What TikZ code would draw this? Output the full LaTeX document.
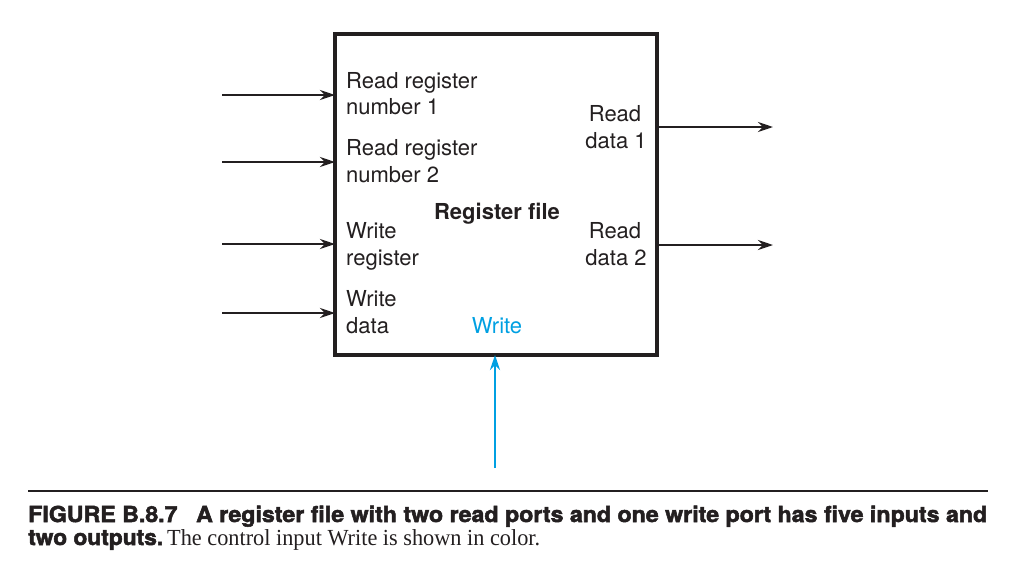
\documentclass[tikz,border=0pt]{standalone}
\usepackage{fontspec}
\setmainfont{TeX Gyre Heros}
\newfontfamily\capserif{Liberation Serif}
\newfontfamily\capheavy[FakeBold=2.2]{TeX Gyre Heros Bold}
\usetikzlibrary{arrows.meta}
\definecolor{wcyan}{RGB}{0,160,226}
\definecolor{ink}{RGB}{35,31,32}
\tikzset{
  lbl/.style={anchor=base west, inner sep=0pt, font=\fontsize{22}{27}\selectfont, text=ink},
  rlbl/.style={anchor=base, inner sep=0pt, font=\fontsize{22}{27}\selectfont, text=ink},
  tip/.style={-{Stealth[length=15pt,width=10pt]}},
  wire/.style={line width=2.6pt, draw=ink, tip},
  capbold/.style={anchor=base west, inner sep=0pt, font=\fontsize{22}{26}\capheavy, text=ink},
}
\begin{document}
\begin{tikzpicture}[x=1pt,y=-1pt]
\useasboundingbox (0,0) rectangle (1024,566);
% box
\node[draw=ink, line width=3.6pt, minimum width=322pt, minimum height=321pt, inner sep=0pt] (rf) at (496,194.5) {};
% input coordinates
\coordinate (i1) at (222,95);
\coordinate (i2) at (222,162);
\coordinate (i3) at (222,244);
\coordinate (i4) at (222,313);
\coordinate (e1) at (335,95);
\coordinate (e2) at (335,162);
\coordinate (e3) at (335,244);
\coordinate (e4) at (335,313);
\draw[wire] (i1) -- (e1);
\draw[wire] (i2) -- (e2);
\draw[wire] (i3) -- (e3);
\draw[wire] (i4) -- (e4);
% outputs
\coordinate (s1) at (657,127);
\coordinate (s2) at (657,245);
\coordinate (o1) at (773,127);
\coordinate (o2) at (773,245);
\draw[wire] (s1) -- (o1);
\draw[wire] (s2) -- (o2);
% write control
\coordinate (wc) at (495,468);
\coordinate (wt) at (495,355);
\draw[wire, draw=wcyan] (wc) -- (wt);
% labels
\node[lbl] (l1a) at (346,88) {Read register};
\node[lbl] (l1b) at (346,114) {number 1};
\node[lbl] (l2a) at (346,155) {Read register};
\node[lbl] (l2b) at (346,182) {number 2};
\node[lbl] (l3a) at (346,238) {Write};
\node[lbl] (l3b) at (346,265) {register};
\node[lbl] (l4a) at (346,306) {Write};
\node[lbl] (l4b) at (346,333) {data};
\node[rlbl] (r1a) at (615,121) {Read};
\node[rlbl] (r1b) at (616,148) {data 1};
\node[rlbl] (r2a) at (615,238) {Read};
\node[rlbl] (r2b) at (616,265) {data 2};
\node[rlbl, font=\fontsize{22}{27}\selectfont\bfseries] (title) at (497,219) {Register file};
\node[rlbl, text=wcyan] (wl) at (497,333) {Write};
% caption
\coordinate (ra) at (28,491);
\coordinate (rb) at (988,491);
\draw[line width=2.6pt, draw=ink] (ra) -- (rb);
\node[capbold] (cap1) at (28,522) {\resizebox{959pt}{\height}{FIGURE B.8.7\hspace{0.8em}A register file with two read ports and one write port has five inputs and}};
\node[capbold] (cap2) at (28,545) {\resizebox{135pt}{\height}{two outputs.}};
\node[anchor=base west, inner sep=0pt, font=\fontsize{23}{26}\capserif, text=ink] (cap3) at (167,545) {\resizebox{373pt}{\height}{The control input Write is shown in color.}};
\end{tikzpicture}
\end{document}
